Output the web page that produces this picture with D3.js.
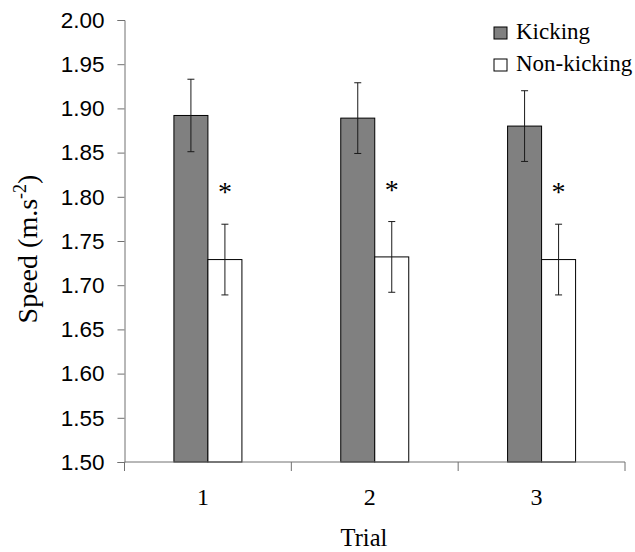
<!DOCTYPE html>
<html>
<head>
<meta charset="utf-8">
<script src="https://cdn.jsdelivr.net/npm/d3@7"></script>
<style>
  body { margin: 0; background: #fff; }
</style>
</head>
<body>
<div id="chart"></div>
<script>
// values
const trials = ['1', '2', '3'];
const seriesNames = ['Kicking', 'Non-kicking'];
const kicking = [1.892, 1.889, 1.880];
const kickingErr = [0.041, 0.040, 0.040];
const nonKicking = [1.729, 1.732, 1.729];
const nonKickingErr = [0.040, 0.040, 0.040];
const significant = [true, true, true];
const yTicks = [1.50, 1.55, 1.60, 1.65, 1.70, 1.75, 1.80, 1.85, 1.90, 1.95, 2.00];

const width = 635, height = 552;
const margin = { top: 20, right: 10, bottom: 90, left: 124.5 };
const plotRight = 625, plotBottom = 462;
const serif = '"Liberation Serif", "Times New Roman", serif';

const svg = d3.select('#chart')
  .append('svg')
    .attr('width', width)
    .attr('height', height);

// scales
const x0 = d3.scaleBand()
  .domain(trials)
  .range([margin.left, plotRight])
  .padding(0);
const groupWidth = 68;
const x1 = d3.scaleBand()
  .domain(seriesNames)
  .range([0, groupWidth]);
const y = d3.scaleLinear()
  .domain([1.5, 2.0])
  .range([plotBottom, margin.top]);

const fills = { 'Kicking': '#808080', 'Non-kicking': '#ffffff' };

// rows: one per trial x series
const rows = [];
trials.forEach((t, i) => {
  rows.push({ trial: t, series: 'Kicking', value: kicking[i], err: kickingErr[i] });
  rows.push({ trial: t, series: 'Non-kicking', value: nonKicking[i], err: nonKickingErr[i], sig: significant[i] });
});
const barX = d => x0(d.trial) + (x0.bandwidth() - groupWidth) / 2 + x1(d.series);
const barMid = d => barX(d) + x1.bandwidth() / 2;

// bars
svg.selectAll('.bar')
  .data(rows)
  .enter().append('rect')
    .attr('class', 'bar')
    .attr('x', d => barX(d))
    .attr('y', d => y(d.value))
    .attr('width', x1.bandwidth())
    .attr('height', d => y(1.5) - y(d.value))
    .style('fill', d => fills[d.series])
    .style('stroke', '#000')
    .style('stroke-width', 1);

// error bars
const capW = 3.5;
const errG = svg.selectAll('.err')
  .data(rows)
  .enter().append('g')
    .attr('class', 'err')
    .style('stroke', '#1a1a1a')
    .style('stroke-width', 1);
errG.append('line')
  .attr('x1', barMid)
  .attr('x2', barMid)
  .attr('y1', d => y(d.value + d.err))
  .attr('y2', d => y(d.value - d.err));
errG.append('line')
  .attr('x1', d => barMid(d) - capW)
  .attr('x2', d => barMid(d) + capW)
  .attr('y1', d => y(d.value + d.err))
  .attr('y2', d => y(d.value + d.err));
errG.append('line')
  .attr('x1', d => barMid(d) - capW)
  .attr('x2', d => barMid(d) + capW)
  .attr('y1', d => y(d.value - d.err))
  .attr('y2', d => y(d.value - d.err));

// asterisks over the non-kicking bars
svg.selectAll('.star')
  .data(rows.filter(d => d.sig))
  .enter().append('text')
    .attr('class', 'star')
    .attr('x', barMid)
    .attr('y', d => y(d.value + d.err) - 23)
    .attr('text-anchor', 'middle')
    .style('font-family', serif)
    .style('font-size', '28px')
    .text('*');

// y axis
const yAxis = svg.append('g')
  .attr('transform', `translate(${margin.left},0)`)
  .call(d3.axisLeft(y).tickValues(yTicks).tickSize(7).tickPadding(13).tickFormat(d3.format('.2f')));
yAxis.select('.domain').attr('stroke', '#707070');
yAxis.selectAll('.tick line').attr('stroke', '#707070');
yAxis.selectAll('.tick text')
  .style('font-family', '"Liberation Sans", Arial, sans-serif')
  .style('font-size', '22.5px')
  .attr('fill', '#000');

// x axis: line, ticks at category boundaries, labels at centres
const xAxis = svg.append('g');
xAxis.append('line')
  .attr('x1', margin.left)
  .attr('x2', plotRight)
  .attr('y1', plotBottom)
  .attr('y2', plotBottom)
  .attr('stroke', '#707070');
const bounds = trials.map(t => x0(t)).concat([plotRight]);
xAxis.selectAll('.xtick')
  .data(bounds)
  .enter().append('line')
    .attr('class', 'xtick')
    .attr('x1', d => d)
    .attr('x2', d => d)
    .attr('y1', plotBottom)
    .attr('y2', plotBottom + 9)
    .attr('stroke', '#707070');
xAxis.selectAll('.xlabel')
  .data(trials)
  .enter().append('text')
    .attr('class', 'xlabel')
    .attr('x', d => x0(d) + x0.bandwidth() / 2 - 5)
    .attr('y', 505)
    .attr('text-anchor', 'middle')
    .style('font-family', serif)
    .style('font-size', '24px')
    .text(d => d);

// axis titles
svg.append('text')
  .attr('x', 364)
  .attr('y', 546)
  .attr('text-anchor', 'middle')
  .style('font-family', serif)
  .style('font-size', '24.5px')
  .text('Trial');

const yTitle = svg.append('text')
  .attr('transform', 'translate(37,249) rotate(-90)')
  .attr('text-anchor', 'middle')
  .style('font-family', serif)
  .style('font-size', '28px');
yTitle.append('tspan').text('Speed (m.s');
yTitle.append('tspan').attr('dy', -11).style('font-size', '18px').text('-2');
yTitle.append('tspan').attr('dy', 11).text(')');

// legend
const legend = svg.selectAll('.legend')
  .data(seriesNames)
  .enter().append('g')
    .attr('class', 'legend')
    .attr('transform', (d, i) => `translate(494, ${27 + i * 32})`);
legend.append('rect')
  .attr('width', 13)
  .attr('height', 12)
  .style('fill', d => fills[d])
  .style('stroke', '#000')
  .style('stroke-width', 1);
legend.append('text')
  .attr('x', 22)
  .attr('y', 12)
  .style('font-family', serif)
  .style('font-size', '23px')
  .text(d => d);
</script>
</body>
</html>
